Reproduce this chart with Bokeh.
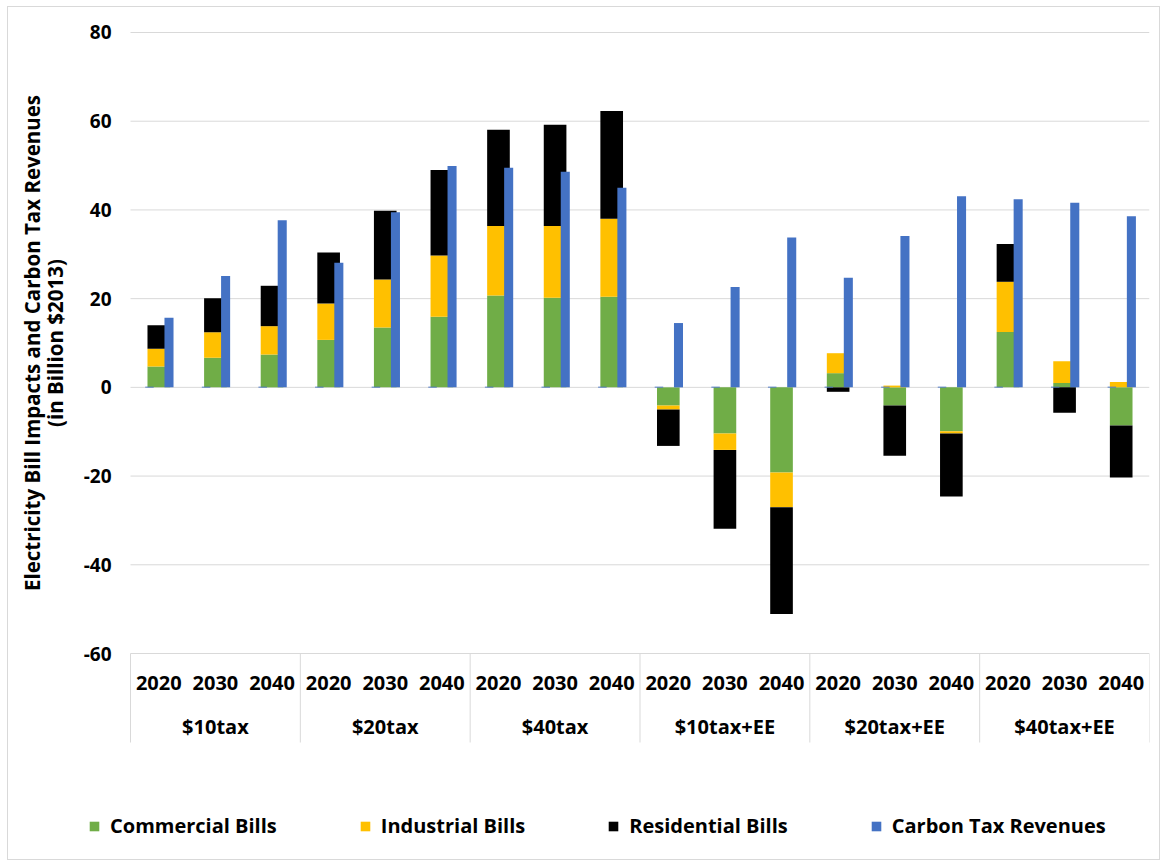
from math import pi

from bokeh.embed import file_html
from bokeh.resources import INLINE
from bokeh.plotting import figure
from bokeh.models import ColumnDataSource, FixedTicker, Legend, LegendItem, Range1d
from bokeh.core.properties import value

# Scenarios and years
groups = ["$10tax", "$20tax", "$40tax", "$10tax+EE", "$20tax+EE", "$40tax+EE"]
years = ["2020", "2030", "2040"]

# Electricity bill impacts (billion $2013)
commercial = [4.7, 6.7, 7.4, 10.7, 13.5, 15.9, 20.7, 20.2, 20.4,
              -4.1, -10.4, -19.2, 3.2, -4.1, -9.9, 12.5, 1.0, -8.6]
industrial = [4.0, 5.7, 6.4, 8.2, 10.8, 13.8, 15.7, 16.2, 17.6,
              -0.9, -3.7, -7.8, 4.5, 0.4, -0.5, 11.3, 4.9, 1.2]
residential = [5.3, 7.7, 9.1, 11.5, 15.5, 19.3, 21.7, 22.8, 24.3,
               -8.2, -17.8, -24.1, -1.0, -11.3, -14.2, 8.5, -5.7, -11.7]
# Carbon tax revenues (billion $2013)
revenues = [15.7, 25.1, 37.7, 28.1, 39.5, 49.9, 49.5, 48.6, 45.0,
            14.5, 22.6, 33.8, 24.7, 34.1, 43.1, 42.4, 41.6, 38.6]

y_ticks = [-60, -40, -20, 0, 20, 40, 60, 80]
y_title = ["Electricity Bill Impacts and Carbon Tax Revenues", "(in Billion $2013)"]

series = [("Commercial Bills", commercial, "#70AD47"),
          ("Industrial Bills", industrial, "#FFC000"),
          ("Residential Bills", residential, "#000000")]

FONT = value("Open Sans")
GRID = "#D9D9D9"
n_years = len(years)
xs = list(range(len(groups) * n_years))          # one slot per scenario/year
x_first, x_last = xs[0] - 0.5, xs[-1] + 0.5       # edges of the category area

# pixel scale of the frame
PX_PER_X = 56.61
PX_PER_Y = 4.436
y_lo = min(y_ticks) - 197 / PX_PER_Y   # room for category table and legend
y_hi = max(y_ticks) + 12 / PX_PER_Y
table_bottom = min(y_ticks) - 89 / PX_PER_Y
x_lo = x_first - 115 / PX_PER_X        # room for tick labels and axis title

p = figure(width=1153, height=854, output_backend="svg", toolbar_location=None,
           x_range=Range1d(x_lo, x_last), y_range=Range1d(y_lo, y_hi),
           x_axis_location=None,
           min_border_left=7, min_border_right=12,
           min_border_top=13, min_border_bottom=11)
p.margin = (6, 6, 6, 7)
p.styles = {"border": "1px solid #D9D9D9"}
p.outline_line_color = None
p.background_fill_color = "white"
p.border_fill_color = "white"
p.xgrid.grid_line_color = None
p.ygrid.grid_line_color = None

# horizontal gridlines across the category area only
p.segment(x0=[x_first] * len(y_ticks), x1=[x_last] * len(y_ticks),
          y0=y_ticks, y1=y_ticks, line_color=GRID, line_width=1)

# Stack positives upward and negatives downward from zero
pos = [0.0] * len(xs)
neg = [0.0] * len(xs)
legend_items = []
for name, vals, color in series:
    bottoms, tops = [], []
    for i, v in enumerate(vals):
        if v >= 0:
            bottoms.append(pos[i]); tops.append(pos[i] + v); pos[i] += v
        else:
            bottoms.append(neg[i] + v); tops.append(neg[i]); neg[i] += v
    src = ColumnDataSource(dict(x=xs, bottom=bottoms, top=tops))
    r = p.vbar(x="x", bottom="bottom", top="top", width=0.4, source=src,
               fill_color=color, line_color=None)
    legend_items.append(LegendItem(label=name, renderers=[r]))

rev_src = ColumnDataSource(dict(x_rev=[x + 0.18 for x in xs],
                                x_pair=[x - 0.165 for x in xs],
                                top=revenues, zero=[0.0] * len(xs)))
# empty companion slot of the revenue cluster
p.vbar(x="x_pair", bottom="zero", top="zero", width=0.15, source=rev_src,
       fill_color=None, line_color="#4472C4", line_alpha=0.6, line_width=1.5)
r_rev = p.vbar(x="x_rev", bottom="zero", top="top", width=0.16, source=rev_src,
               fill_color="#4472C4", line_color=None)
legend_items.append(LegendItem(label="Carbon Tax Revenues", renderers=[r_rev]))

# y axis: tick labels sit just left of the category area
p.yaxis.ticker = FixedTicker(ticks=y_ticks)
p.yaxis.major_label_overrides = {t: str(t) for t in y_ticks}
p.yaxis.axis_line_color = None
p.yaxis.major_tick_line_color = None
p.yaxis.minor_tick_line_color = None
p.yaxis.major_tick_out = 0
p.yaxis.major_tick_in = 0
p.yaxis.major_label_standoff = -96
p.yaxis.major_label_text_font = "Open Sans"
p.yaxis.major_label_text_font_style = "bold"
p.yaxis.major_label_text_font_size = "19px"
p.yaxis.major_label_text_color = "black"

# axis title, two lines centred on the value span
title_src = ColumnDataSource(dict(
    x=[x_first - 99 / PX_PER_X, x_first - 76 / PX_PER_X],
    y=[(min(y_ticks) + max(y_ticks)) / 2] * 2, t=y_title))
p.text(x="x", y="y", text="t", source=title_src, angle=pi / 2, text_font=FONT,
       text_font_style="bold", text_font_size="20.5px", text_color="black",
       text_align="center", text_baseline="middle")

# category table under the plot
row_year = min(y_ticks) - 29 / PX_PER_Y
row_group = min(y_ticks) - 73 / PX_PER_Y
yr_src = ColumnDataSource(dict(x=xs, t=years * len(groups), y=[row_year] * len(xs)))
p.text(x="x", y="y", text="t", source=yr_src, text_font=FONT,
       text_font_style="bold", text_font_size="20px", text_color="black",
       text_align="center", text_baseline="middle")
grp_src = ColumnDataSource(dict(x=[g * n_years + (n_years - 1) / 2 for g in range(len(groups))],
                                t=groups, y=[row_group] * len(groups)))
p.text(x="x", y="y", text="t", source=grp_src, text_font=FONT,
       text_font_style="bold", text_font_size="20px", text_color="black",
       text_align="center", text_baseline="middle")

sep_x = [g * n_years - 0.5 for g in range(len(groups))] + [x_last]
p.segment(x0=sep_x, x1=sep_x, y0=[min(y_ticks)] * len(sep_x),
          y1=[table_bottom] * len(sep_x), line_color=GRID, line_width=1)

legend = Legend(items=legend_items, orientation="horizontal", location=(73, 11),
                nrows=1, glyph_width=12, glyph_height=12, label_standoff=10,
                spacing=82, padding=0, margin=0, border_line_color=None,
                background_fill_alpha=0, label_text_font="Open Sans",
                label_text_font_style="bold", label_text_font_size="20px",
                label_text_color="black")
p.add_layout(legend)

open("out.html", "w").write(file_html(p, INLINE))
